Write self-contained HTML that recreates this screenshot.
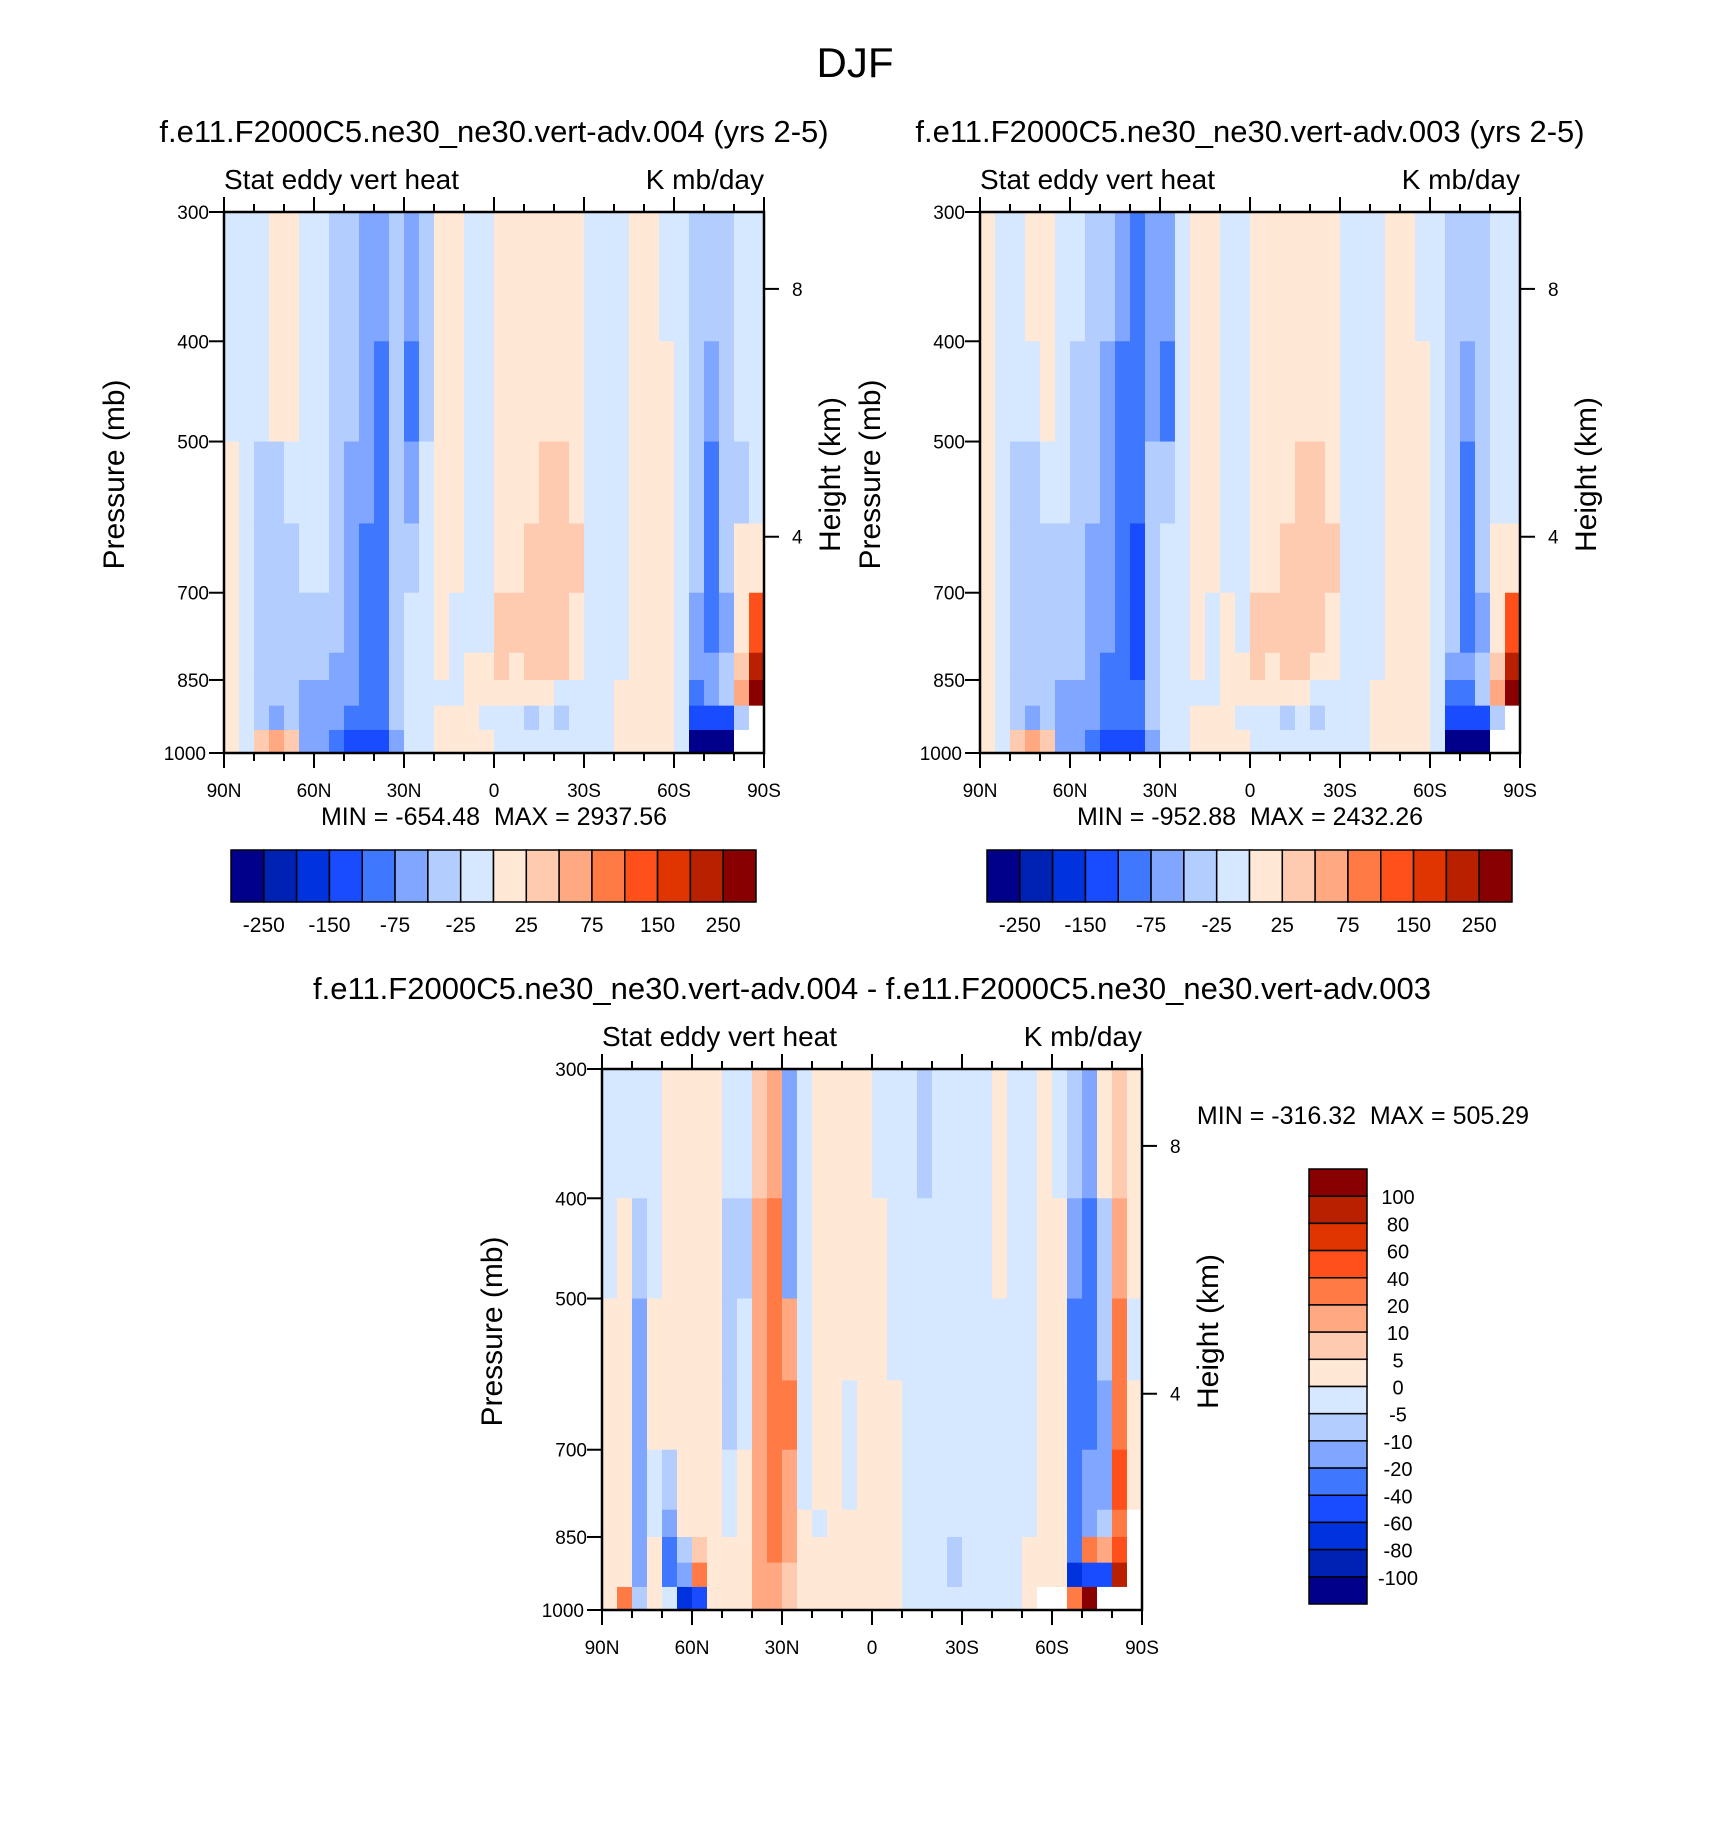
<!DOCTYPE html>
<html><head><meta charset="utf-8">
<style>
html,body{margin:0;padding:0;background:#fff;}
svg{display:block;font-family:"Liberation Sans",Arial,sans-serif;}
text{white-space:pre;}
</style></head>
<body>
<svg id="fig" xmlns="http://www.w3.org/2000/svg" width="1710" height="1830" viewBox="0 0 1710 1830" xml:space="preserve">
<rect width="1710" height="1830" fill="#fff"/>
<text x="855" y="77" font-size="42" text-anchor="middle">DJF</text>
</svg>
<script>
// ---------- data ----------
const colors = ["#00008a","#0022b4","#0033dd","#1a4cff","#3f77ff","#80a6ff","#b3cdff","#d6e8ff","#ffe9d6","#ffcbb0","#ffa882","#ff7a45","#ff4f1a","#e03500","#b82000","#880000"];
const levelsAbs = [-250,-200,-150,-100,-75,-50,-25,0,25,50,75,100,150,200,250];
const levelsDiff = [-100,-80,-60,-40,-20,-10,-5,0,5,10,20,40,60,80,100];
const absLabels = ["-250","-150","-75","-25","25","75","150","250"];
const diffLabels = ["100","80","60","40","20","10","5","0","-5","-10","-20","-40","-60","-80","-100"];
const latLabels = ["90N","60N","30N","0","30S","60S","90S"];
const pTicks = [300,400,500,700,850,1000];
const heightTicks = ["8","4"];
const heightTickP = [356,618];
// pressure band edges (mb)
const pEdges = [300,400,500,600,700,800,850,900,950,1000];
// 36 latitude columns (5 deg each, 90N -> 90S); each column: values for 9 pressure bands (top -> bottom)
const field1 = [
[-10,-10,10,10,10,10,10,10,10],[-10,-10,-10,-10,-10,-10,-10,-10,-10],[-10,-10,-40,-40,-40,-40,-40,-40,30],
[10,10,-40,-40,-40,-40,-40,-60,60],[10,10,-10,-40,-40,-40,-40,-40,30],[-10,-10,-10,-10,-40,-40,-60,-60,-60],
[-10,-10,-10,-10,-40,-40,-60,-60,-60],[-40,-40,-40,-40,-40,-60,-60,-60,-80],[-40,-40,-60,-60,-60,-60,-60,-80,-120],
[-60,-60,-60,-80,-80,-80,-80,-80,-120],[-60,-80,-80,-90,-90,-90,-80,-80,-120],[-40,-40,-40,-40,-40,-40,-40,-40,-60],
[-60,-80,-60,-40,-10,-10,-10,-10,-10],[-40,-40,-10,-10,-10,-10,-10,-10,-10],[10,10,10,10,10,10,-10,10,10],
[10,10,10,10,-10,-10,-10,10,10],[-10,-10,-10,-10,-10,10,10,10,10],[-10,-10,-10,-10,-10,10,10,-10,10],
[10,10,10,10,30,30,10,-10,-10],[10,10,10,10,30,10,10,-10,-10],[10,10,10,30,30,30,10,-40,-10],
[10,10,30,30,30,30,10,-10,-10],[10,10,30,30,30,30,-10,-40,-10],[10,10,10,30,10,10,-10,-10,-10],
[-10,-10,-10,-10,-10,-10,-10,-10,-10],[-10,-10,-10,-10,-10,-10,-10,-10,-10],[-10,-10,-10,-10,-10,-10,10,10,10],
[10,10,10,10,10,10,10,10,10],[10,10,10,10,10,10,10,10,10],[-10,10,10,10,10,10,10,10,10],
[-10,-10,-10,-10,-10,-10,-10,-10,-10],[-40,-40,-40,-40,-60,-60,-80,-120,-300],[-40,-60,-80,-80,-90,-60,-60,-120,-300],
[-40,-40,-40,-40,-60,-40,-40,-120,-300],[-10,-10,-40,10,10,30,60,-40,null],[-10,-10,-10,10,120,220,300,null,null]];
const field2 = [
[10,10,10,10,10,10,10,10,10],[-10,-10,-10,-10,-10,-10,-10,-10,-10],[-10,-10,-40,-40,-40,-40,-40,-40,30],
[10,-10,-40,-40,-40,-40,-40,-60,60],[10,10,-10,-40,-40,-40,-40,-40,30],[-10,-10,-10,-40,-40,-40,-60,-60,-60],
[-10,-40,-40,-40,-40,-40,-60,-60,-60],[-40,-40,-40,-60,-60,-60,-60,-60,-80],[-40,-60,-60,-60,-60,-80,-80,-80,-120],
[-60,-80,-80,-80,-80,-90,-90,-90,-120],[-80,-90,-90,-120,-120,-120,-90,-80,-120],[-60,-60,-40,-40,-40,-40,-40,-40,-60],
[-60,-80,-40,-10,-10,-10,-10,-10,-10],[-10,-10,-10,-10,-10,-10,-10,-10,-10],[10,10,10,10,10,10,-10,10,10],
[10,10,10,10,-10,-10,-10,10,10],[-10,-10,-10,-10,10,10,10,10,10],[-10,-10,-10,-10,-10,10,10,-10,10],
[10,10,10,10,30,30,10,-10,-10],[10,10,10,10,30,10,10,-10,-10],[10,10,10,30,30,30,10,-40,-10],
[10,10,30,30,30,30,10,-10,-10],[10,10,30,30,30,10,-10,-40,-10],[10,10,10,30,10,10,-10,-10,-10],
[-10,-10,-10,-10,-10,-10,-10,-10,-10],[-10,-10,-10,-10,-10,-10,-10,-10,-10],[-10,-10,-10,-10,-10,-10,10,10,10],
[10,10,10,10,10,10,10,10,10],[10,10,10,10,10,10,10,10,10],[-10,10,10,10,10,10,10,10,10],
[-10,-10,-10,-10,-10,-10,-10,-10,-10],[-40,-40,-40,-40,-40,-60,-80,-120,-300],[-40,-60,-80,-80,-90,-60,-80,-150,-300],
[-40,-40,-40,-40,-60,-40,-40,-120,-300],[-10,-10,-10,10,10,30,60,-40,null],[-10,-10,-10,10,120,220,300,null,null]];
const field3 = [
[-3,-3,3,3,3,3,3,3,3],[-3,3,3,3,3,3,3,3,30],[-3,-8,-15,-15,-15,-15,-15,-15,-8],
[-3,-3,3,3,-3,-3,3,3,3],[3,3,3,3,-8,-15,-30,-40,-3],[3,3,3,3,3,3,-8,-15,-80],
[3,3,3,3,3,3,8,30,-60],[3,3,3,3,3,3,3,3,3],[-3,-8,-8,-8,-3,-3,3,3,3],
[-3,-8,-3,-3,3,3,3,3,3],[8,15,15,15,15,15,15,15,15],[15,30,30,30,30,30,30,15,15],
[-15,-15,15,30,15,15,15,8,8],[-3,-3,-3,-3,-3,3,3,3,3],[3,3,3,3,3,-3,3,3,3],
[3,3,3,3,3,3,3,3,3],[3,3,3,-3,-3,3,3,3,3],[3,3,3,3,3,3,3,3,3],
[-3,3,3,3,3,3,3,3,3],[-3,-3,-3,3,3,3,3,3,3],[-3,-3,-3,-3,-3,-3,-3,-3,-3],
[-8,-3,-3,-3,-3,-3,-3,-3,-3],[-3,-3,-3,-3,-3,-3,-3,-3,-3],[-3,-3,-3,-3,-3,-3,-8,-8,-3],
[-3,-3,-3,-3,-3,-3,-3,-3,-3],[-3,-3,-3,-3,-3,-3,-3,-3,-3],[3,3,-3,-3,-3,-3,-3,-3,-3],
[-3,-3,-3,-3,-3,-3,-3,-3,-3],[-3,-3,-3,-3,-3,-3,3,3,3],[3,3,3,3,3,3,3,3,null],
[-3,3,3,3,3,3,3,3,null],[-8,-15,-30,-40,-30,-30,-40,-80,30],[-15,-30,-40,-40,-20,-15,30,-60,100],
[3,-8,-8,-15,-15,-8,15,-60,null],[8,15,30,30,40,30,40,80,null],[3,3,-3,3,3,null,null,null,null]];

// ---------- helpers ----------
const NS = "http://www.w3.org/2000/svg";
const svg = document.getElementById("fig");
function mk(tag, attrs, parent){ const e=document.createElementNS(NS,tag); for(const k in attrs) e.setAttribute(k,attrs[k]); (parent||svg).appendChild(e); return e; }
function txt(s, attrs, parent){ const e=mk("text",attrs,parent); e.textContent=s; return e; }
function colorFor(v, levels){ if(v===null) return "#ffffff"; let i=0; while(i<levels.length && v>=levels[i]) i++; return colors[i]; }

function drawPlot(cfg){
  const g = mk("g",{});
  
  
  const L=cfg.x, T=cfg.y, W=540, H=541;
  const yOf = p => T + H*Math.log(p/300)/Math.log(1000/300);
  const xOf = lat => L + W*(90-lat)/180;
  cfg.field.forEach((col,i)=>{
    const x0 = xOf(90-5*i), x1 = xOf(90-5*(i+1));
    col.forEach((v,j)=>{
      const y0=yOf(pEdges[j]), y1=yOf(pEdges[j+1]);
      const r = mk("rect",{x:x0.toFixed(2),y:y0.toFixed(2),width:(x1-x0+0.6).toFixed(2),height:(y1-y0+0.6).toFixed(2),fill:colorFor(v,cfg.levels)},g);
      
      
    });
  });
  const fr = mk("rect",{x:L,y:T,width:W,height:H,fill:"none",stroke:"#000","stroke-width":2.5},g);
  
  
  for(let k=0;k<=18;k++){
    const lat = 90-10*k, x=xOf(lat), major = (k%3===0), len = major?15:8;
    mk("line",{x1:x,y1:T,x2:x,y2:T-len,stroke:"#000","stroke-width":2},g);
    mk("line",{x1:x,y1:T+H,x2:x,y2:T+H+len,stroke:"#000","stroke-width":2},g);
  }
  latLabels.forEach((s,k)=>{
    const t = txt(s,{x:xOf(90-30*k),y:T+H+44,"font-size":19,"text-anchor":"middle"},g);
    
    
  });
  pTicks.forEach(p=>{
    const y=yOf(p);
    mk("line",{x1:L,y1:y,x2:L-15,y2:y,stroke:"#000","stroke-width":2},g);
    const t = txt(String(p),{x:L-15-(p===1000?3:0),y:y+7,"font-size":19,"text-anchor":"end"},g);
    
    
  });
  heightTicks.forEach((s,k)=>{
    const y=yOf(heightTickP[k]);
    mk("line",{x1:L+W,y1:y,x2:L+W+15,y2:y,stroke:"#000","stroke-width":2},g);
    const t = txt(s,{x:L+W+28,y:y+7,"font-size":19,"text-anchor":"start"},g);
    
    
  });
  const yl = txt("Pressure (mb)",{x:0,y:0,"font-size":30,"text-anchor":"middle",transform:`translate(${L-100},${T+H/2-8}) rotate(-90)`},g);
  
  
  const hl = txt("Height (km)",{x:0,y:0,"font-size":30,"text-anchor":"middle",transform:`translate(${L+W+76},${T+H/2-8}) rotate(-90)`},g);
  
  
  const ls = txt("Stat eddy vert heat",{x:L,y:T-23,"font-size":28,"text-anchor":"start"},g);
  
  
  const rs = txt("K mb/day",{x:L+W,y:T-23,"font-size":28,"text-anchor":"end"},g);
  
  
  const tt = txt(cfg.title,{x:L+W/2,y:T-70,"font-size":31,"text-anchor":"middle"},g);
  
  
  const mm = txt(cfg.minmax,{x:cfg.mmx,y:cfg.mmy,"font-size":25,"text-anchor":"middle"},g);
  
  
}

drawPlot({name:"panel-004",x:224,y:212,field:field1,levels:levelsAbs,title:"f.e11.F2000C5.ne30_ne30.vert-adv.004 (yrs 2-5)",minmax:"MIN = -654.48  MAX = 2937.56",mmx:494,mmy:825});
drawPlot({name:"panel-003",x:980,y:212,field:field2,levels:levelsAbs,title:"f.e11.F2000C5.ne30_ne30.vert-adv.003 (yrs 2-5)",minmax:"MIN = -952.88  MAX = 2432.26",mmx:1250,mmy:825});
drawPlot({name:"panel-difference",x:602,y:1069,field:field3,levels:levelsDiff,title:"f.e11.F2000C5.ne30_ne30.vert-adv.004 - f.e11.F2000C5.ne30_ne30.vert-adv.003",minmax:"MIN = -316.32  MAX = 505.29",mmx:1363,mmy:1124});

function hbar(x0,name){
  const g=mk("g",{});
  
  
  const w=(756-231)/16, y=850, h=52;
  colors.forEach((c,i)=>{
    const r=mk("rect",{x:x0+i*w,y:y,width:w,height:h,fill:c,stroke:"#000","stroke-width":1.5},g);
    
    
  });
  absLabels.forEach((s,k)=>{
    const t=txt(s,{x:x0+(1+2*k)*w,y:932,"font-size":21,"text-anchor":"middle"},g);
    
    
  });
}
hbar(231,"colorbar-004");
hbar(987,"colorbar-003");
(function(){
  const g=mk("g",{});
  
  
  const x=1309,y0=1169,w=58,h=(1604-1169)/16;
  colors.slice().reverse().forEach((c,i)=>{
    const r=mk("rect",{x:x,y:y0+i*h,width:w,height:h,fill:c,stroke:"#000","stroke-width":1.5},g);
    
    
  });
  diffLabels.forEach((s,k)=>{
    const t=txt(s,{x:1398,y:y0+(k+1)*h+8,"font-size":20,"text-anchor":"middle"},g);
    
    
  });
})();
</script>
</body></html>
